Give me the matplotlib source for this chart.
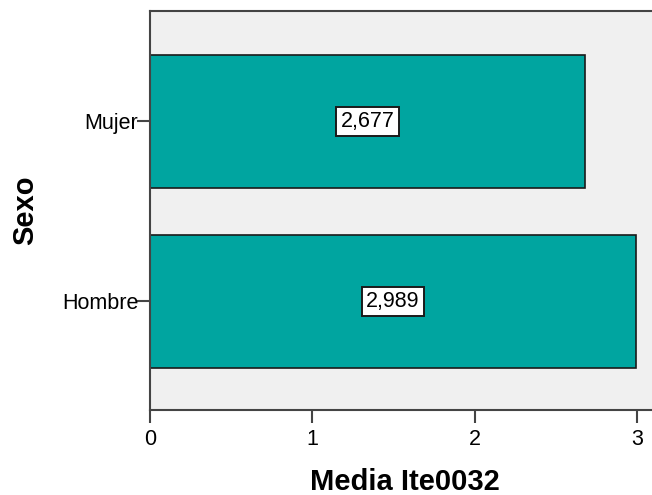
import matplotlib
matplotlib.use('Agg')
import matplotlib.pyplot as plt

categories = ["Hombre", "Mujer"]
means = [2.989, 2.677]
value_labels = ["2,989", "2,677"]
x_ticks = [0, 1, 2, 3]

plt.rcParams['font.family'] = ['Liberation Sans', 'DejaVu Sans']

fig = plt.figure(figsize=(6.52, 4.95), dpi=100)
ax = fig.add_axes([0.230, 0.172, 0.770, 0.806])
ax.set_facecolor("#F0F0F0")

pos = list(range(len(categories)))
ax.barh(pos, means, height=0.74, color="#00A5A0", edgecolor="#1a1a1a", linewidth=1.2)

# value boxes in the middle of each bar
for p, v, lab in zip(pos, means, value_labels):
    ax.text(v / 2, p, lab, ha="center", va="center", fontsize=15.5, color="black",
            bbox=dict(boxstyle="square,pad=0.2", facecolor="white", edgecolor="#1a1a1a", linewidth=1.4))

ax.set_xlim(0, 3.09)
ax.set_ylim(-0.603, 1.614)
ax.set_yticks(pos)
ax.set_yticklabels(categories, fontsize=15.5)
ax.set_xticks(x_ticks)
ax.set_xticklabels([str(t) for t in x_ticks], fontsize=15.5)
ax.tick_params(axis="both", length=9.5, width=1.5, color="#444444")
ax.tick_params(axis="y", pad=-1)
ax.tick_params(axis="x", pad=4)

ax.spines["right"].set_visible(False)
for side in ["left", "top", "bottom"]:
    ax.spines[side].set_linewidth(1.5)
    ax.spines[side].set_color("#444444")

ax.set_xlabel("Media Ite0032", fontsize=21, fontweight="bold", va="center")
ax.set_ylabel("Sexo", fontsize=21, fontweight="bold", va="center")
ax.xaxis.set_label_coords(0.508, -0.182)
ax.yaxis.set_label_coords(-0.249, 0.501)

fig.savefig("out.png", dpi=100)
plt.close(fig)
